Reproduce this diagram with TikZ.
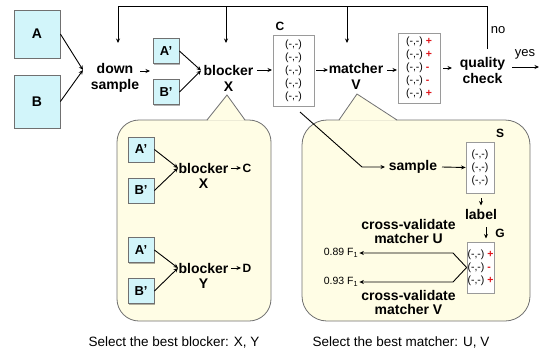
\documentclass[tikz,border=0pt]{standalone}
\usepackage{fontspec}
\setmainfont{Liberation Sans}
\usetikzlibrary{arrows.meta,shadows}
\definecolor{boxfill}{HTML}{D2F5FA}
\definecolor{boxline}{HTML}{707070}
\definecolor{pairline}{HTML}{9A9A9A}
\definecolor{bubblefill}{HTML}{FFFDE5}
\definecolor{bubbleline}{HTML}{707070}
\definecolor{signred}{HTML}{E0151B}
\newcommand{\pp}{(-,-)}
\newcommand{\plus}{(-,-)~{\color{signred}\bfseries+}}
\newcommand{\minus}{(-,-)~{\color{signred}\bfseries-}}
\begin{document}
\begin{tikzpicture}[x=1pt,y=-1pt,
  boxshadow/.style={drop shadow={shadow xshift=1pt, shadow yshift=-1.2pt,
    fill=black, opacity=0.3}},
  srcbox/.style={draw=boxline, fill=boxfill, line width=0.8pt, inner sep=0,
    boxshadow, font=\bfseries\fontsize{14}{16}\selectfont},
  smallbox/.style={srcbox, minimum width=26, minimum height=25,
    font=\bfseries\fontsize{13}{15}\selectfont},
  lbl/.style={font=\bfseries\fontsize{14}{16}\selectfont, align=center, inner sep=0},
  tag/.style={font=\bfseries\fontsize{12}{12}\selectfont, inner sep=0},
  pairbox/.style={draw=pairline, fill=white, line width=0.8pt, inner sep=0,
    boxshadow, align=left, font=\fontsize{10.5}{13}\selectfont},
  plain/.style={font=\fontsize{13}{13}\selectfont, inner sep=0},
  score/.style={font=\fontsize{10.5}{12}\selectfont, inner sep=1},
  caption/.style={font=\fontsize{13.5}{15}\selectfont, inner sep=0},
  wire/.style={line width=0.9pt, line join=miter},
  arr/.style={wire, -{Stealth[length=4.5pt,width=4pt]}},
  bubble/.style={draw=bubbleline, fill=bubblefill, line width=0.8pt}]
\useasboundingbox (0,0) rectangle (539,354);

% ---------- callout bubbles ----------
\draw[bubble, rounded corners=22] (117,120) rectangle (271,321);
\fill[bubblefill] (207.5,120.6) -- (227,95) -- (244.5,120.6) -- cycle;
\draw[bubbleline, line width=0.8pt] (207,120) -- (227,95) -- (245,120);

\draw[bubble, rounded corners=25] (302,120) rectangle (530,321);
\fill[bubblefill] (339.5,120.6) -- (357,94) -- (396.5,120.6) -- cycle;
\draw[bubbleline, line width=0.8pt] (339,120) -- (357,94) -- (397,120);

% ---------- main pipeline ----------
\node[srcbox, minimum width=46, minimum height=48] (A) at (37,34) {A};
\node[srcbox, minimum width=46, minimum height=53] (B) at (37,101.5) {B};
\node[lbl] (ds) at (115,78) {down\\sample};
\node[smallbox] (a1) at (166,51) {A'};
\node[smallbox] (b1) at (166,92) {B'};
\node[lbl] (bx) at (228.5,78) {blocker\\X};
\node[pairbox, align=center, minimum width=41, minimum height=71] (C) at (293.5,70.5)
  {\pp\\\pp\\\pp\\\pp\\\pp};
\node[tag] (Clab) at (280,26) {C};
\node[lbl] (mv) at (356,76) {matcher\\V};
\node[pairbox, minimum width=42, minimum height=70] (R) at (419,68)
  {\plus\\\plus\\\minus\\\minus\\\plus};
\node[lbl] (qc) at (482.5,70) {quality\\check};
\node[plain] (no) at (498,30) {no};
\node[plain] (yes) at (525,54) {yes};

\coordinate (dsin) at (83,70);
\coordinate (dsout) at (140,71);
\coordinate (pairin) at (150,71);
\coordinate (bxin) at (201,70.5);
\coordinate (bxout) at (257,70);
\coordinate (Cin) at (272,70);
\coordinate (Cout) at (316,70);
\coordinate (mvin) at (328,70);
\coordinate (mvout) at (387,70);
\coordinate (Rin) at (397,70);
\coordinate (Rout) at (443,68);
\coordinate (qcin) at (452,68);
\coordinate (yesa) at (512,67);
\coordinate (yesb) at (539,67);

\draw[arr] (A.east) -- (dsin);
\draw[arr] (B.east) -- (dsin);
\draw[arr] (dsout) -- (pairin);
\draw[arr] (a1.east) -- (bxin);
\draw[arr] (b1.east) -- (bxin);
\draw[arr] (bxout) -- (Cin);
\draw[arr] (Cout) -- (mvin);
\draw[arr] (mvout) -- (Rin);
\draw[arr] (Rout) -- (qcin);
\draw[arr] (yesa) -- (yesb);

% feedback loop from the quality check
\coordinate (fbq) at (487,49);
\coordinate (fbr) at (487,6);
\coordinate (fbl) at (118,6);
\coordinate (fbds) at (118,43);
\coordinate (fbbx) at (226,6);
\coordinate (fbbxe) at (226,43);
\coordinate (fbmv) at (347,6);
\coordinate (fbmve) at (347,43);
\draw[wire] (fbq) -- (fbr) -- (fbl);
\draw[arr] (fbl) -- (fbds);
\draw[arr] (fbbx) -- (fbbxe);
\draw[arr] (fbmv) -- (fbmve);

% ---------- blocker selection ----------
\node[smallbox] (a2) at (141,149.5) {A'};
\node[smallbox] (b2) at (141,190.5) {B'};
\node[lbl, font=\bfseries\fontsize{14}{15}\selectfont] (bx2) at (203.5,175.5) {blocker\\X};
\node[tag] (C2) at (247,168) {C};
\coordinate (bx2in) at (178,168);
\coordinate (bx2o) at (231,168);
\coordinate (bx2e) at (241,168);
\draw[arr] (a2.east) -- (bx2in);
\draw[arr] (b2.east) -- (bx2in);
\draw[arr] (bx2o) -- (bx2e);

\node[smallbox] (a3) at (141,250) {A'};
\node[smallbox] (b3) at (141,291) {B'};
\node[lbl, font=\bfseries\fontsize{14}{15}\selectfont] (by) at (203.5,275.5) {blocker\\Y};
\node[tag] (D) at (247,268) {D};
\coordinate (byin) at (178,268);
\coordinate (byo) at (231,268);
\coordinate (bye) at (241,268);
\draw[arr] (a3.east) -- (byin);
\draw[arr] (b3.east) -- (byin);
\draw[arr] (byo) -- (bye);

% ---------- matcher selection ----------
\coordinate (cs) at (300,112);
\coordinate (csb) at (362,167);
\coordinate (smpin) at (385,167);
\node[lbl] (smp) at (413,167) {sample};
\coordinate (smpo) at (442,167);
\node[pairbox, align=center, minimum width=28, minimum height=51] (S) at (480,167.5)
  {\pp\\\pp\\\pp};
\node[tag] (Slab) at (500,133) {S};
\draw[arr] (cs) -- (csb) -- (smpin);
\draw[arr] (smpo) -- (S.west);

\coordinate (lbin) at (481,198);
\coordinate (lbine) at (481,205.5);
\node[lbl] (lab) at (481,214) {label};
\coordinate (lbo) at (486,227);
\coordinate (lboe) at (486,238.5);
\draw[arr] (lbin) -- (lbine);
\draw[arr] (lbo) -- (lboe);
\node[tag] (Glab) at (500,233) {G};
\node[pairbox, minimum width=27, minimum height=51] (G) at (480.5,267.5)
  {\plus\\\minus\\\plus};

\node[score] (f89) at (341,253) {0.89 F\textsubscript{1}};
\node[score] (f93) at (341,282) {0.93 F\textsubscript{1}};
\coordinate (ku) at (453,253);
\coordinate (kv) at (453,282);
\draw[arr] (G.west) -- (ku) -- (f89.east);
\draw[arr] (G.west) -- (kv) -- (f93.east);
\node[lbl, font=\bfseries\fontsize{14}{14}\selectfont] (cvu) at (408.5,231) {cross-validate\\matcher U};
\node[lbl, font=\bfseries\fontsize{14}{14}\selectfont] (cvv) at (408.5,302) {cross-validate\\matcher V};

% ---------- captions ----------
\node[caption] (capb) at (174,342) {Select the best blocker: X, Y};
\node[caption] (capm) at (401,342) {Select the best matcher: U, V};
\end{tikzpicture}
\end{document}
